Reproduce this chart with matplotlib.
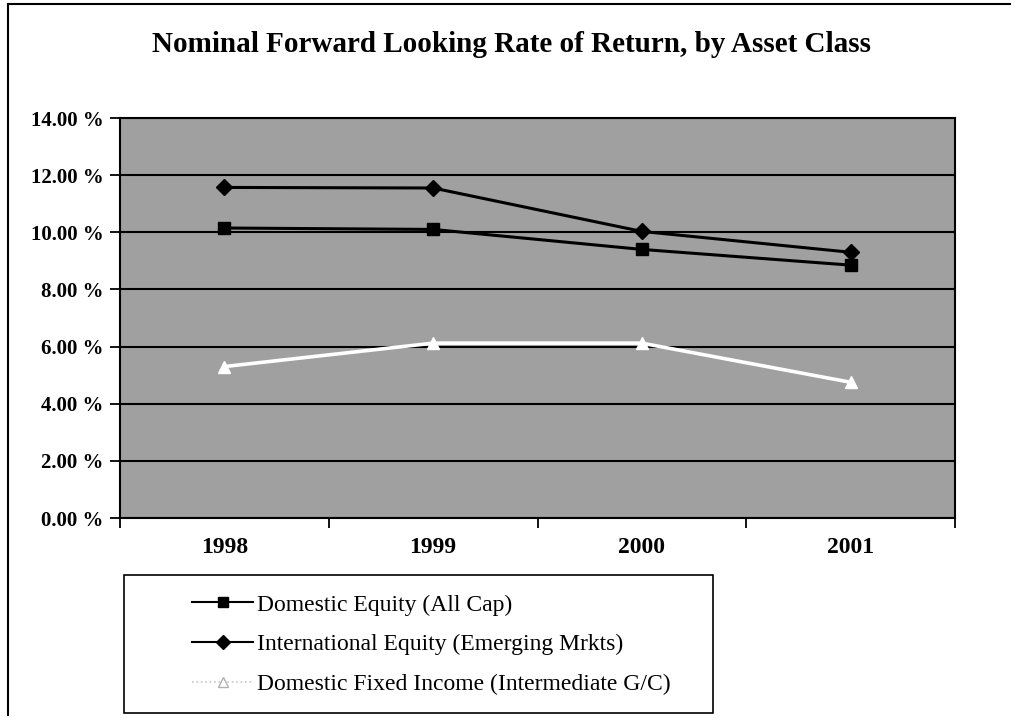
import matplotlib
matplotlib.use("Agg")
import matplotlib.pyplot as plt
from matplotlib.lines import Line2D
from matplotlib.patches import Rectangle
from matplotlib.ticker import FuncFormatter, FixedLocator

years = ["1998", "1999", "2000", "2001"]
domestic_equity = [10.15, 10.10, 9.40, 8.85]
intl_equity = [11.57, 11.55, 10.03, 9.30]
fixed_income = [5.30, 6.12, 6.12, 4.75]
series_names = ["Domestic Equity (All Cap)",
                "International Equity (Emerging Mrkts)",
                "Domestic Fixed Income (Intermediate G/C)"]
title = "Nominal Forward Looking Rate of Return, by Asset Class"
yticks = [0, 2, 4, 6, 8, 10, 12, 14]

plt.rcParams['font.family'] = ['Liberation Serif', 'DejaVu Serif']

W, H = 1022, 723
fig = plt.figure(figsize=(W/100, H/100), dpi=100)
ax = fig.add_axes([120/W, 1-518/H, (955-120)/W, (518-118)/H])
ax.set_facecolor('#a0a0a0')

x = list(range(len(years)))
ax.plot(x, domestic_equity, color='black', lw=2.2, marker='s', ms=8, zorder=3)
ax.plot(x, intl_equity, color='black', lw=2.2, marker='D', ms=8, zorder=3)
ax.plot(x, fixed_income, color='white', lw=2.6, marker='^', ms=9,
        markerfacecolor='white', markeredgecolor='white', zorder=3)

ax.set_ylim(0, 14)
ax.set_xlim(-0.5, len(years) - 0.5)
ax.set_yticks(yticks)
ax.yaxis.set_major_formatter(FuncFormatter(lambda v, p: f"{v:.2f} %"))
ax.grid(axis='y', color='black', lw=1.5)
ax.set_axisbelow(True)

ax.set_xticks(x)
ax.set_xticklabels(years)
ax.tick_params(axis='x', which='major', length=0, pad=14)
ax.xaxis.set_minor_locator(FixedLocator([i - 0.5 for i in range(len(years) + 1)]))
ax.tick_params(axis='x', which='minor', length=7, width=1.3, direction='out')
ax.tick_params(axis='y', length=7, width=1.3, direction='out', pad=5)
for lab in ax.get_xticklabels():
    lab.set_fontweight('bold')
    lab.set_fontsize(17)
for lab in ax.get_yticklabels():
    lab.set_fontweight('bold')
    lab.set_fontsize(15)
for s in ax.spines.values():
    s.set_color('black')
    s.set_linewidth(1.5)

fig.text(0.5, 1-45/H, title, ha='center', va='center',
         fontsize=21, fontweight='bold')

handles = [
    Line2D([], [], color='black', lw=1.5, marker='s', ms=7),
    Line2D([], [], color='black', lw=1.5, marker='D', ms=7),
    Line2D([], [], color='#c8c8c8', lw=1.2, ls=':', marker='^', ms=7,
           markerfacecolor='white', markeredgecolor='#b0b0b0'),
]
leg = fig.legend(handles, series_names, loc='upper left',
                 bbox_to_anchor=(192/W, 1-594/H),
                 fontsize=17, frameon=False, handlelength=2.6,
                 borderpad=0, labelspacing=0.78, handletextpad=0.15,
                 borderaxespad=0)

# legend box
fig.add_artist(Rectangle((124/W, 1-713/H), (713-124)/W, (713-575)/H,
                         transform=fig.transFigure, fill=False,
                         edgecolor='black', lw=1.2))

# page border lines from the scanned document
fig.add_artist(Line2D([8/W, 8/W], [1-715/H, 1-4/H], color='black', lw=1.5))
fig.add_artist(Line2D([8/W, 1010/W], [1-4/H, 1-4/H], color='black', lw=1.5))

fig.savefig("out.png", dpi=100)
